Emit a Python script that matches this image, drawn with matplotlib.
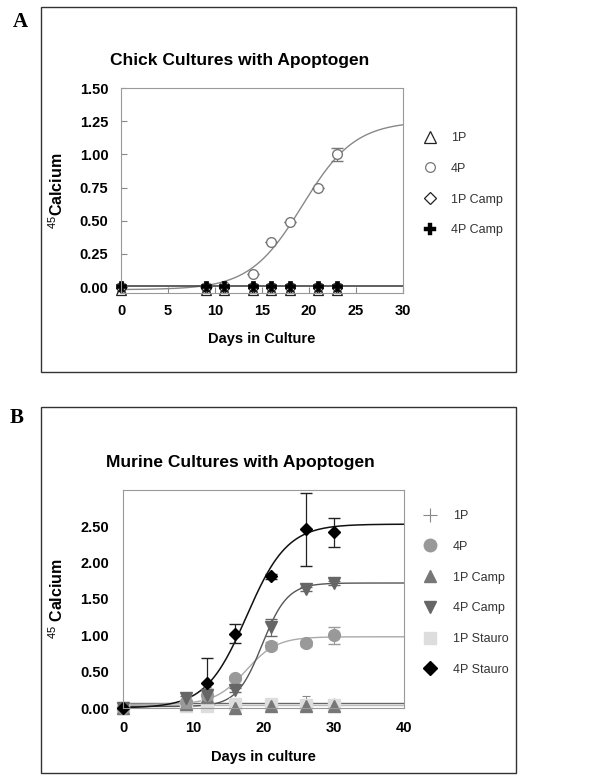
import numpy as np
import matplotlib.pyplot as plt
from matplotlib.patches import Rectangle
from matplotlib.lines import Line2D

plt.rcParams['font.family'] = ['Liberation Sans', 'DejaVu Sans']
plt.rcParams['mathtext.fontset'] = 'custom'
plt.rcParams['mathtext.rm'] = 'Liberation Sans'
plt.rcParams['mathtext.bf'] = 'Liberation Sans:bold'

# Painel A - pintinho
dias_a = [0, 9, 11, 14, 16, 18, 21, 23]
a_1p = [-0.02, -0.02, -0.02, -0.02, -0.02, -0.02, -0.02, -0.02]
a_4p = [0.0, 0.0, 0.01, 0.10, 0.34, 0.49, 0.75, 1.00]
a_4p_err = [0, 0, 0, 0, 0, 0, 0, 0.05]
a_1p_camp = [-0.01, -0.01, -0.01, -0.01, -0.01, -0.01, -0.01, -0.01]
a_4p_camp = [0.01, 0.01, 0.01, 0.01, 0.01, 0.01, 0.01, 0.01]
a_err_zero = [0.02, 0.02, 0.02, 0.02, 0.02, 0.02, 0.02, 0.02]
# ajuste sigmoide: base, topo, x50, inclinacao
ajuste_a_4p = (-0.02, 1.25, 19.3, 2.8)
linha_a_zero = 0.01

# Painel B - murino
dias_b = [0, 9, 12, 16, 21, 26, 30]
b_1p = [0.0, 0.05, 0.05, 0.04, 0.06, 0.06, 0.06]
b_1p_err = [0, 0.03, 0.04, 0.03, 0.05, 0.10, 0.05]
b_4p = [0.0, 0.08, 0.18, 0.41, 0.86, 0.89, 1.00]
b_4p_err = [0, 0.02, 0.05, 0.03, 0.05, 0.03, 0.12]
b_1p_camp = [0.0, 0.05, 0.15, 0.0, 0.03, 0.03, 0.03]
b_1p_camp_err = [0, 0.02, 0.14, 0.02, 0.03, 0.02, 0.02]
b_4p_camp = [0.0, 0.14, 0.18, 0.25, 1.11, 1.64, 1.72]
b_4p_camp_err = [0, 0.03, 0.08, 0.03, 0.12, 0.03, 0.03]
b_1p_stauro = [0.0, 0.03, 0.03, 0.06, 0.05, 0.04, 0.04]
b_4p_stauro = [0.0, np.nan, 0.34, 1.02, 1.81, 2.46, 2.42]
b_4p_stauro_err = [0, 0, 0.35, 0.13, 0.03, 0.50, 0.20]
ajuste_b_stauro = (0.0, 2.53, 17.6, 2.9)
ajuste_b_4p_camp = (0.02, 1.72, 19.8, 1.8)
ajuste_b_4p = (0.05, 0.98, 17.5, 2.2)
linhas_b = [0.07, 0.04]


def sigmoide(x, p):
    base, topo, x50, s = p
    return base + (topo - base) / (1 + np.exp((x50 - x) / s))


fig = plt.figure(figsize=(6.16, 7.81), dpi=100)

# caixas dos paineis
fig.add_artist(Rectangle((41 / 616, 1 - 372 / 781), 475 / 616, 365 / 781,
                         transform=fig.transFigure, fill=False, ec='#333333', lw=1.0))
fig.add_artist(Rectangle((41 / 616, 1 - 773 / 781), 475 / 616, 366 / 781,
                         transform=fig.transFigure, fill=False, ec='#333333', lw=1.0))
fig.text(13 / 616, 1 - 22 / 781, 'A', family='Liberation Serif', weight='bold',
         fontsize=15, ha='left', va='center')
fig.text(10 / 616, 1 - 418 / 781, 'B', family='Liberation Serif', weight='bold',
         fontsize=15, ha='left', va='center')

# ---------- A ----------
ax = fig.add_axes([121 / 616, 1 - 293 / 781, 282 / 616, 205 / 781])
xa = np.linspace(0, 30, 300)
ax.plot(xa, sigmoide(xa, ajuste_a_4p), color='#888888', lw=1.0)
ax.plot([0, 30], [linha_a_zero, linha_a_zero], color='#444444', lw=1.2)
ax.errorbar(dias_a, a_4p, yerr=a_4p_err, fmt='o', mfc='white', mec='#777777',
            ms=7, mew=1.0, ecolor='#777777', capsize=4, elinewidth=0.8)
ax.errorbar(dias_a, a_1p, yerr=a_err_zero, fmt='^', mfc='white', mec='#222222',
            ms=7, mew=0.9, ecolor='#222222', capsize=3, elinewidth=0.8, clip_on=False)
ax.errorbar(dias_a, a_1p_camp, yerr=a_err_zero, fmt='D', mfc='white', mec='#222222',
            ms=5, mew=0.9, ecolor='#222222', capsize=3, elinewidth=0.8, clip_on=False)
ax.errorbar(dias_a, a_4p_camp, yerr=a_err_zero, fmt='P', mfc='black', mec='black',
            ms=7, mew=0.5, ecolor='black', capsize=3, elinewidth=0.8, clip_on=False)
ax.set_xlim(0, 30)
ax.set_ylim(-0.045, 1.5)
ax.set_xticks(range(0, 31, 5))
ax.set_yticks([0, 0.25, 0.5, 0.75, 1.0, 1.25, 1.5])
ax.set_yticklabels(['%.2f' % v for v in [0, 0.25, 0.5, 0.75, 1.0, 1.25, 1.5]])
ax.tick_params(direction='in', length=4, color='#888888', labelsize=10.5, pad=8)
ax.tick_params(axis='y', pad=9)
for lab in ax.get_xticklabels() + ax.get_yticklabels():
    lab.set_fontweight('bold')
for sp in ax.spines.values():
    sp.set_color('#999999')
ax.set_xlabel('Days in Culture', fontsize=10.5, weight='bold', labelpad=10)
ax.set_ylabel(r'$^{45}$Calcium', fontsize=11.5, weight='bold', labelpad=10)
fig.text(240 / 616, 1 - 60 / 781, 'Chick Cultures with Apoptogen', fontsize=12.5,
         weight='bold', ha='center', va='center')

handles_a = [
    Line2D([], [], ls='none', marker='^', mfc='white', mec='#222222', ms=9, mew=0.9),
    Line2D([], [], ls='none', marker='o', mfc='white', mec='#777777', ms=7, mew=0.9),
    Line2D([], [], ls='none', marker='D', mfc='white', mec='#222222', ms=6.5, mew=0.9),
    Line2D([], [], ls='none', marker='P', mfc='black', mec='black', ms=9, mew=0.3),
]
fig.legend(handles_a, ['1P', '4P', '1P Camp', '4P Camp'], loc='upper left',
           bbox_to_anchor=(424 / 616, 1 - 132 / 781), frameon=False, fontsize=9,
           handlelength=1.0, handletextpad=1.15, labelspacing=1.5,
           borderpad=0, borderaxespad=0, labelcolor='#333333')

# ---------- B ----------
bx = fig.add_axes([123 / 616, 1 - 708 / 781, 281 / 616, 218 / 781])
xb = np.linspace(0, 40, 400)
for yl, c in zip(linhas_b, ['#666666', '#bbbbbb']):
    bx.plot([0, 40], [yl, yl], color=c, lw=1.0)
bx.plot(xb, sigmoide(xb, ajuste_b_4p), color='#aaaaaa', lw=1.0)
bx.plot(xb, sigmoide(xb, ajuste_b_4p_camp), color='#555555', lw=1.0)
bx.plot(xb, sigmoide(xb, ajuste_b_stauro), color='#111111', lw=1.1)
bx.errorbar(dias_b, b_1p, yerr=b_1p_err, fmt='+', color='#888888', ms=9, mew=0.8,
            capsize=3, elinewidth=0.7, clip_on=False)
bx.errorbar(dias_b, b_1p_stauro, fmt='s', color='#dddddd', ms=8, clip_on=False)
bx.errorbar(dias_b, b_1p_camp, yerr=b_1p_camp_err, fmt='^', color='#777777', ms=8,
            capsize=3, elinewidth=0.7, clip_on=False)
bx.errorbar(dias_b, b_4p, yerr=b_4p_err, fmt='o', color='#999999', ms=8.5,
            capsize=4, elinewidth=0.8, clip_on=False)
bx.errorbar(dias_b, b_4p_camp, yerr=b_4p_camp_err, fmt='v', color='#666666', ms=9,
            capsize=4, elinewidth=0.8, clip_on=False)
bx.errorbar(dias_b, b_4p_stauro, yerr=b_4p_stauro_err, fmt='D', color='black', ms=6.5,
            capsize=4, elinewidth=0.9, ecolor='#222222', clip_on=False)
bx.set_xlim(0, 40)
bx.set_ylim(0, 3.0)
bx.set_xticks(range(0, 41, 10))
bx.set_yticks([0, 0.5, 1.0, 1.5, 2.0, 2.5])
bx.set_yticklabels(['%.2f' % v for v in [0, 0.5, 1.0, 1.5, 2.0, 2.5]])
bx.tick_params(direction='in', length=0, labelsize=10.5, pad=9)
bx.tick_params(axis='y', pad=10)
for lab in bx.get_xticklabels() + bx.get_yticklabels():
    lab.set_fontweight('bold')
for sp in bx.spines.values():
    sp.set_color('#999999')
bx.set_xlabel('Days in culture', fontsize=10.5, weight='bold', labelpad=11)
bx.set_ylabel(r'$^{45}$ Calcium', fontsize=11.5, weight='bold', labelpad=10)
fig.text(240 / 616, 1 - 462 / 781, 'Murine Cultures with Apoptogen', fontsize=12.5,
         weight='bold', ha='center', va='center')

handles_b = [
    Line2D([], [], ls='none', marker='+', color='#888888', ms=10, mew=0.8),
    Line2D([], [], ls='none', marker='o', color='#999999', ms=9),
    Line2D([], [], ls='none', marker='^', color='#777777', ms=9),
    Line2D([], [], ls='none', marker='v', color='#666666', ms=9),
    Line2D([], [], ls='none', marker='s', color='#dddddd', ms=8.5),
    Line2D([], [], ls='none', marker='D', color='black', ms=7),
]
fig.legend(handles_b, ['1P', '4P', '1P Camp', '4P Camp', '1P Stauro', '4P Stauro'],
           loc='upper left', bbox_to_anchor=(424 / 616, 1 - 510 / 781), frameon=False,
           fontsize=9, handlelength=1.0, handletextpad=1.3, labelspacing=1.5,
           borderpad=0, borderaxespad=0, labelcolor='#333333')

plt.savefig('out.png', dpi=100)
